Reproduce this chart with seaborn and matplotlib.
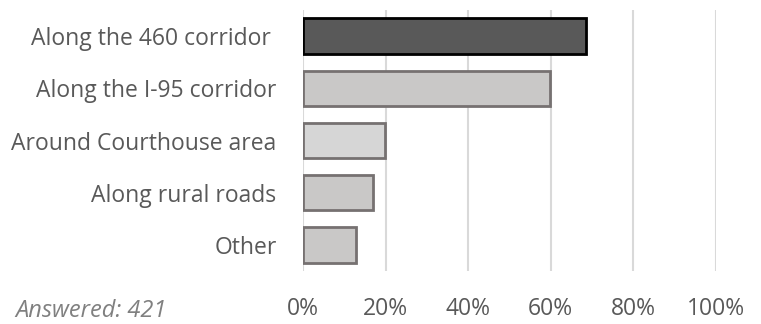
import matplotlib
matplotlib.use("Agg")
import matplotlib.pyplot as plt
import seaborn as sns
import pandas as pd
from matplotlib.ticker import PercentFormatter

# Survey responses: where should development be located
categories = ["Along the 460 corridor ", "Along the I-95 corridor", "Around Courthouse area",
              "Along rural roads", "Other"]
shares = [0.686, 0.597, 0.199, 0.170, 0.128]
fill_colors = ["#595959", "#c9c8c7", "#d6d6d6", "#c9c8c7", "#c9c8c7"]
edge_colors = ["#000000", "#767171", "#767171", "#767171", "#767171"]
x_ticks = [0, 0.2, 0.4, 0.6, 0.8, 1.0]
answered_note = "Answered: 421"

df = pd.DataFrame({"category": categories, "share": shares})

sns.set_theme(style="white")
plt.rcParams["font.family"] = ["Open Sans", "DejaVu Sans"]

fig = plt.figure(figsize=(7.61, 3.24), dpi=100)
ax = fig.add_axes([303 / 761, 53 / 324, 413 / 761, 261 / 324])

sns.barplot(data=df, y="category", x="share", hue="category", palette=fill_colors,
            orient="h", width=0.68, legend=False, ax=ax, zorder=3)

for patch, ec, fc in zip(ax.patches, edge_colors, fill_colors):
    patch.set_edgecolor(ec)
    patch.set_facecolor(fc)
    patch.set_linewidth(2.0)

ax.set_xlim(0, 1.0)
ax.set_xticks(x_ticks)
ax.xaxis.set_major_formatter(PercentFormatter(1.0, decimals=0))
ax.grid(axis="x", color="#d9d9d9", linewidth=1.5, zorder=0)
ax.set_axisbelow(True)
for side in ["top", "right", "bottom", "left"]:
    ax.spines[side].set_visible(False)

ax.set_xlabel("")
ax.set_ylabel("")
ax.tick_params(axis="x", length=0, pad=18.5, labelsize=16.5, labelcolor="#595959")
ax.tick_params(axis="y", length=0, pad=19, labelsize=16.5, labelcolor="#595959")

fig.text(15 / 761, 1 / 324, answered_note, fontsize=17, style="italic",
         color="#808080", ha="left", va="bottom")

fig.savefig("out.png", dpi=100)
